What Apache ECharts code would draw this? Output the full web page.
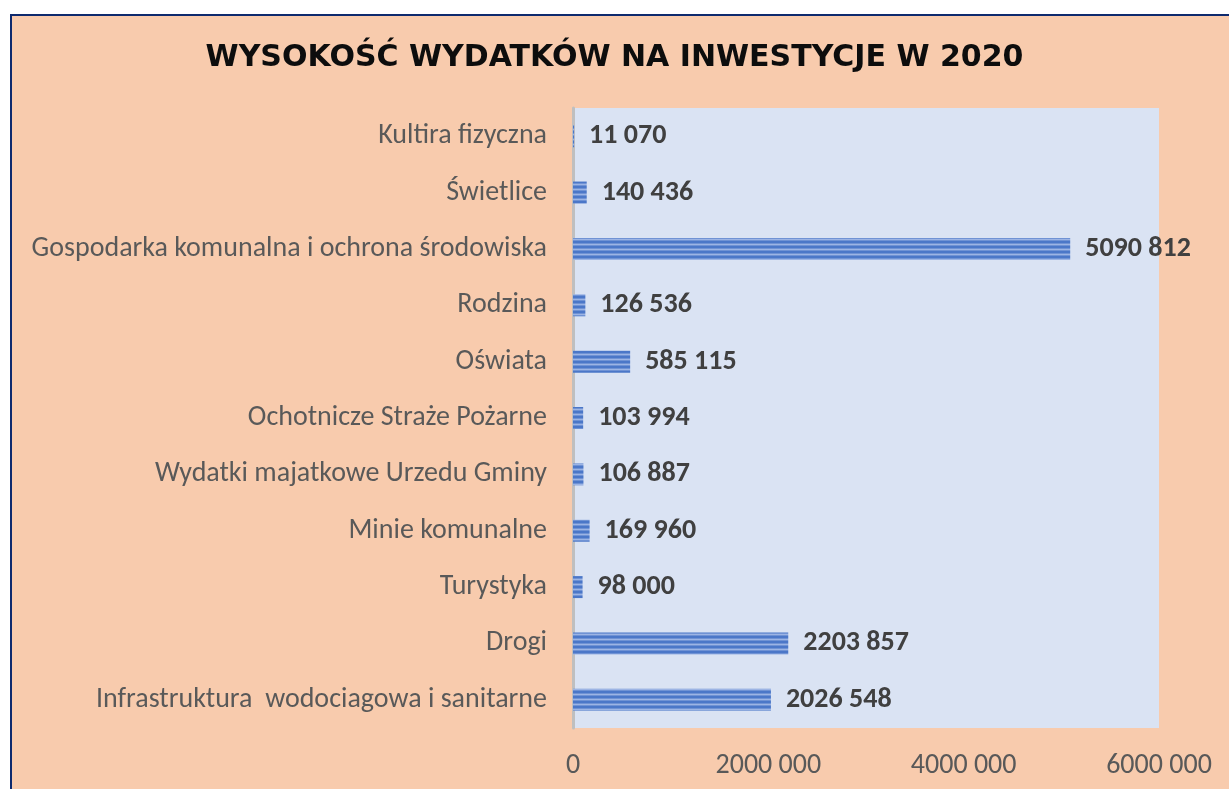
<!DOCTYPE html>
<html><head><meta charset="utf-8">
<script src="https://cdn.jsdelivr.net/npm/echarts@6/dist/echarts.min.js"></script>
<style>html,body{margin:0;padding:0;background:#fff}#c{width:1229px;height:789px}</style>
</head><body><div id="c"></div>
<script>
const categories = ['Infrastruktura  wodociagowa i sanitarne','Drogi','Turystyka','Minie komunalne','Wydatki majatkowe Urzedu Gminy','Ochotnicze Straże Pożarne','Oświata','Rodzina','Gospodarka komunalna i ochrona środowiska','Świetlice','Kultira fizyczna'];
const values = [2026548,2203857,98000,169960,106887,103994,585115,126536,5090812,140436,11070];
const xTicks = [0,2000000,4000000,6000000];
const titleText = 'WYSOKOŚĆ WYDATKÓW NA INWESTYCJE W 2020';

function fmt(v){const s=String(Math.round(v));return s.length>3? s.slice(0,-3)+' '+s.slice(-3):s;}

const pc=document.createElement('canvas');pc.width=4;pc.height=5;
const g=pc.getContext('2d');
g.fillStyle='#9CB4E4';g.fillRect(0,0,4,5);
g.fillStyle='#4B77C8';g.fillRect(0,1,4,2);
g.fillStyle='#6F92D4';g.fillRect(0,0,4,1);g.fillRect(0,3,4,1);

const FONT="Carlito, 'Liberation Sans Narrow', 'Open Sans', sans-serif";
const chart=echarts.init(document.getElementById('c'),null,{renderer:'canvas'});
chart.setOption({
  backgroundColor:'#ffffff',
  animation:false,
  graphic:[{type:'rect',z:-10,silent:true,shape:{x:11,y:15,width:1240,height:800},style:{fill:'#F8CBAD',stroke:'#0E2A6E',lineWidth:2}}],
  title:{text:titleText,left:'center',top:38,textStyle:{fontFamily:"'DejaVu Sans', sans-serif",fontWeight:'bold',fontSize:30,color:'#0D0D0D'}},
  grid:{left:573,top:108,width:586,height:620,show:true,backgroundColor:'#DAE3F3',borderWidth:0,containLabel:false},
  xAxis:{type:'value',min:0,max:6000000,interval:2000000,
    axisLine:{show:false},axisTick:{show:false},splitLine:{show:false},
    axisLabel:{margin:24,color:'#595959',fontSize:28,fontFamily:FONT,formatter:v=>fmt(v)}},
  yAxis:{type:'category',data:categories,
    axisLine:{show:true,lineStyle:{color:'#BFBFBF',width:3}},axisTick:{show:false},
    axisLabel:{margin:26,color:'#595959',fontSize:28,fontFamily:FONT,padding:[5,0,0,0]}},
  series:[{type:'bar',data:values,barWidth:22,
    itemStyle:{color:{image:pc,repeat:'repeat'}},
    label:{show:true,position:'right',distance:15,fontFamily:FONT,fontWeight:'bold',fontSize:28,color:'#404040',padding:[5,0,0,0],formatter:p=>fmt(p.value)}}]
});
</script></body></html>
